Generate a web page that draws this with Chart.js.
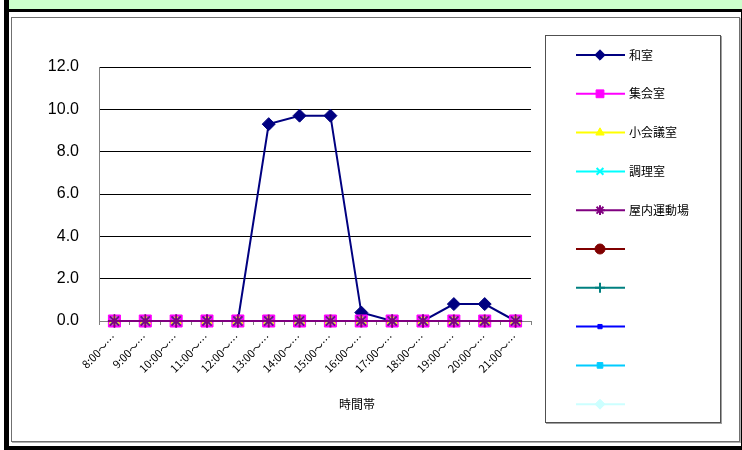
<!DOCTYPE html>
<html>
<head>
<meta charset="utf-8">
<script src="https://cdn.jsdelivr.net/npm/chart.js@4.4.1/dist/chart.umd.min.js"></script>
<style>
  body { margin: 0; background: #fff; }
  #wrap { position: relative; width: 742px; height: 450px; overflow: hidden; }
  .blk { position: absolute; }
  #myChart { position: absolute; left: 0; top: 0; }
</style>
</head>
<body>
<div id="wrap">
  <div class="blk" style="left:9px;top:0;width:733px;height:9px;background:#ccffcc;"></div>
  <div class="blk" style="left:4px;top:9px;width:738px;height:3px;background:#000;"></div>
  <div class="blk" style="left:4px;top:0;width:5px;height:450px;background:#000;"></div>
  <div class="blk" style="left:4px;top:446px;width:738px;height:4px;background:#000;"></div>
  <div class="blk" style="left:741px;top:12px;width:1px;height:438px;background:#000;"></div>
  <div class="blk" style="left:11px;top:17px;width:727px;height:423px;border:1px solid #707070;box-shadow:1px 1px 0 #b0b0b0;"></div>
  <div class="blk" style="left:545px;top:35px;width:174px;height:386px;border:1px solid #505050;box-shadow:1px 1px 0 #a0a0a0;"></div>
  <canvas id="myChart" width="742" height="450"></canvas>
</div>
<script>
// time slots (x axis)
const timeSlots = ["8:00～…", "9:00～…", "10:00～…", "11:00～…", "12:00～…", "13:00～…", "14:00～…",
                   "15:00～…", "16:00～…", "17:00～…", "18:00～…", "19:00～…", "20:00～…", "21:00～…"];

// room names
const roomNames = ["和室", "集会室", "小会議室", "調理室", "屋内運動場", "", "", "", "", ""];

// values per room
const washitsu   = [0, 0, 0, 0, 0, 9.3, 9.7, 9.7, 0.4, 0, 0, 0.8, 0.8, 0];
const shukai     = [0, 0, 0, 0, 0, 0, 0, 0, 0, 0, 0, 0, 0, 0];
const shoKaigi   = [0, 0, 0, 0, 0, 0, 0, 0, 0, 0, 0, 0, 0, 0];
const chori      = [0, 0, 0, 0, 0, 0, 0, 0, 0, 0, 0, 0, 0, 0];
const undojo     = [0, 0, 0, 0, 0, 0, 0, 0, 0, 0, 0, 0, 0, 0];

// y axis ticks
const yMin = 0;
const yMax = 12;
const yStep = 2;

const seriesValues = [washitsu, shukai, shoKaigi, chori, undojo, [], [], [], [], []];
const colors = ["#000080", "#ff00ff", "#ffff00", "#00ffff", "#800080", "#800000", "#008080", "#0000ff", "#00ccff", "#ccffff"];
const styles = ["rectRot", "rect", "triangle", "crossRot", "star", "circle", "cross", "rect", "rect", "rectRot"];
const radii  = [6.5, 8.5, 6, 6, 6.5, 5, 5, 3, 4, 5];
const legendScale = [0.8, 0.65, 0.8, 0.8, 0.75, 1, 1, 1, 1, 1];

const JP = '"Noto Sans CJK JP", sans-serif';

const datasets = seriesValues.map((vals, i) => ({
  label: roomNames[i],
  data: vals,
  borderColor: colors[i],
  backgroundColor: colors[i],
  pointBackgroundColor: colors[i],
  pointBorderColor: colors[i],
  pointStyle: styles[i],
  pointRadius: radii[i],
  pointBorderWidth: (styles[i] == "star" || styles[i].startsWith("cross")) ? 2 : 1,
  borderWidth: 2,
  tension: 0,
  fill: false,
  clip: false,
  order: 20 - i
}));

// legend drawn by hand: line + marker + name, Excel style
const boxLegend = {
  id: "boxLegend",
  afterDraw(chart) {
    const ctx = chart.ctx;
    const x0 = 576, x1 = 625, top = 55, gap = 38.8;
    ctx.save();
    chart.data.datasets.forEach((ds, i) => {
      const y = top + i * gap;
      ctx.strokeStyle = ds.borderColor;
      ctx.fillStyle = ds.borderColor;
      ctx.lineWidth = 2;
      ctx.beginPath();
      ctx.moveTo(x0, y);
      ctx.lineTo(x1, y);
      ctx.stroke();
      if (Chart.helpers && Chart.helpers.drawPoint) {
        ctx.lineWidth = ds.pointBorderWidth;
        Chart.helpers.drawPoint(ctx, {pointStyle: ds.pointStyle, radius: ds.pointRadius * legendScale[i], rotation: 0, borderWidth: ds.pointBorderWidth}, 600, y);
      }
      ctx.fillStyle = "#000";
      ctx.font = "12px " + JP;
      ctx.textBaseline = "middle";
      ctx.textAlign = "left";
      ctx.fillText(ds.label, 629, y);
    });
    // x axis title
    ctx.font = "12px " + JP;
    ctx.textAlign = "center";
    ctx.fillText("時間帯", 357, 404);
    ctx.restore();
  }
};

const canvas = document.getElementById("myChart");
new Chart(canvas, {
  type: "line",
  data: { labels: timeSlots, datasets: datasets },
  options: {
    responsive: false,
    animation: false,
    layout: { padding: { left: 0, top: 67, right: 211, bottom: 0 } },
    plugins: { legend: { display: false }, tooltip: { enabled: false } },
    scales: {
      x: {
        offset: true,
        afterFit(scale) { scale.height = 129; },
        grid: { drawOnChartArea: false, drawTicks: true, tickLength: 4, color: "#808080", offset: true },
        border: { color: "#808080", width: 1 },
        ticks: {
          autoSkip: false, minRotation: 45, maxRotation: 45, padding: 6,
          color: "#000", font: { family: JP, size: 11 }
        }
      },
      y: {
        min: yMin, max: yMax,
        afterFit(scale) { scale.width = 99; },
        grid: { color: "#000", drawTicks: false, lineWidth: 1 },
        border: { color: "#808080", width: 1 },
        ticks: {
          stepSize: yStep, padding: 20, color: "#000",
          font: { family: "Liberation Sans", size: 16 },
          callback: (v) => Number(v).toFixed(1)
        }
      }
    }
  },
  plugins: [boxLegend]
});
</script>
</body>
</html>
